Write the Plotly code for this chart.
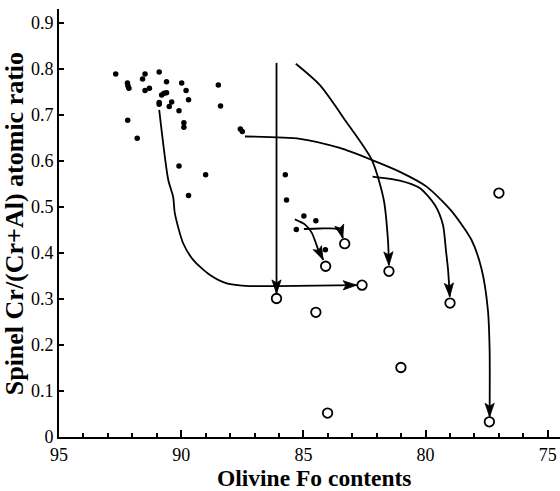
import math
import plotly.graph_objects as go

# Filled dots (olivine Fo, spinel Cr#)
dot_fo = [92.68, 92.2, 92.18, 92.14, 91.58, 91.48, 91.48, 91.3, 90.9, 90.6,
          90.8, 90.7, 90.6, 90.9, 90.9, 90.49, 90.39, 90.09, 89.98, 89.8,
          89.7, 89.89, 89.89, 92.19, 91.8, 88.48, 88.39, 87.58, 87.5, 90.09,
          89.0, 89.7, 85.74, 85.69, 84.98, 84.49, 85.29, 84.1]
dot_cr = [0.789, 0.769, 0.763, 0.758, 0.778, 0.789, 0.753, 0.758, 0.793, 0.772,
          0.743, 0.747, 0.748, 0.727, 0.723, 0.718, 0.728, 0.709, 0.769, 0.753,
          0.733, 0.683, 0.673, 0.688, 0.649, 0.765, 0.719, 0.669, 0.664, 0.589,
          0.570, 0.525, 0.570, 0.515, 0.480, 0.470, 0.451, 0.407]

# Open circles
open_fo = [86.1, 82.6, 84.49, 79.0, 81.01, 84.01, 77.39, 81.5, 83.31, 84.09, 77.0]
open_cr = [0.301, 0.330, 0.271, 0.291, 0.151, 0.052, 0.033, 0.360, 0.420, 0.371, 0.530]

# Evolution paths (each ends with an arrowhead)
path1_fo = [90.90, 90.53, 90.33, 90.26, 89.92, 89.51, 88.82, 88.14, 87.19, 86.10, 84.5, 82.82]
path1_cr = [0.711, 0.559, 0.522, 0.486, 0.421, 0.385, 0.352, 0.334, 0.328, 0.328, 0.329, 0.330]
path2_fo = [86.1, 86.1]
path2_cr = [0.813, 0.312]
path3_fo = [85.31, 84.33, 83.30, 82.20, 81.71, 81.54, 81.50]
path3_cr = [0.811, 0.765, 0.689, 0.602, 0.515, 0.428, 0.373]
path4_fo = [87.39, 85.14, 83.51, 82.21, 81.05, 79.96, 78.97, 78.12, 77.70, 77.45, 77.38, 77.38]
path4_cr = [0.653, 0.648, 0.628, 0.602, 0.576, 0.544, 0.493, 0.428, 0.363, 0.276, 0.189, 0.044]
path5_fo = [82.17, 81.05, 80.24, 79.62, 79.29, 79.17, 79.08, 79.01]
path5_cr = [0.566, 0.557, 0.541, 0.504, 0.461, 0.407, 0.363, 0.305]
path6_fo = [85.35, 84.94, 84.65, 84.39, 84.19]
path6_cr = [0.473, 0.462, 0.443, 0.407, 0.385]
path7_fo = [84.98, 84.33, 83.70, 83.47, 83.39]
path7_cr = [0.452, 0.453, 0.453, 0.448, 0.432]

paths = [(path1_fo, path1_cr), (path2_fo, path2_cr), (path3_fo, path3_cr),
         (path4_fo, path4_cr), (path5_fo, path5_cr), (path6_fo, path6_cr),
         (path7_fo, path7_cr)]

x_ticks = [95, 90, 85, 80, 75]
y_ticks = [0, 0.1, 0.2, 0.3, 0.4, 0.5, 0.6, 0.7, 0.8, 0.9]
y_ticktext = ["0", "0.1", "0.2", "0.3", "0.4", "0.5", "0.6", "0.7", "0.8", "0.9"]

x_title = "Olivine Fo contents"
y_title = "Spinel Cr/(Cr+Al) atomic ratio"

SERIF = "Liberation Serif"
W, H = 560, 491
ML, MR, MT, MB = 59, 0, 9, 54
X_RANGE = [95, 74.5]
Y_RANGE = [0, 0.93]
sx = (W - ML - MR) / (X_RANGE[1] - X_RANGE[0])   # px per data unit (negative: reversed)
sy = (H - MT - MB) / (Y_RANGE[1] - Y_RANGE[0])
HEAD_LEN, HEAD_HALF, HEAD_NOTCH = 13.5, 4.6, 10.5

fig = go.Figure()
head_x, head_y = [], []
for px, py in paths:
    fig.add_trace(go.Scatter(x=px, y=py, mode="lines",
                             line=dict(color="black", width=1.8, shape="spline", smoothing=0.7),
                             hoverinfo="skip", showlegend=False))
    # direction of last segment in screen pixels
    dxs = (px[-1] - px[-2]) * sx
    dys = -(py[-1] - py[-2]) * sy
    n = math.hypot(dxs, dys)
    ux, uy = dxs / n, dys / n
    vx, vy = -uy, ux
    pts = [(0, 0),
           (-ux * HEAD_LEN + vx * HEAD_HALF, -uy * HEAD_LEN + vy * HEAD_HALF),
           (-ux * HEAD_NOTCH, -uy * HEAD_NOTCH),
           (-ux * HEAD_LEN - vx * HEAD_HALF, -uy * HEAD_LEN - vy * HEAD_HALF),
           (0, 0)]
    for ox, oy in pts:
        head_x.append(px[-1] + ox / sx)
        head_y.append(py[-1] - oy / sy)
    head_x.append(None)
    head_y.append(None)

fig.add_trace(go.Scatter(x=head_x, y=head_y, mode="lines", fill="toself",
                         fillcolor="black", line=dict(color="black", width=0.8),
                         hoverinfo="skip", showlegend=False))

fig.add_trace(go.Scatter(x=dot_fo, y=dot_cr, mode="markers",
                         marker=dict(color="black", size=5.5, line=dict(width=0)),
                         showlegend=False))
fig.add_trace(go.Scatter(x=open_fo, y=open_cr, mode="markers",
                         marker=dict(color="white", size=9.5, line=dict(color="black", width=1.8)),
                         showlegend=False))

annotations = [
    dict(text="<b>" + x_title + "</b>", xref="paper", yref="paper", x=0.509, y=0,
         xanchor="center", yanchor="middle", yshift=-41, showarrow=False,
         font=dict(family=SERIF, size=23.5, color="black")),
    dict(text="<b>" + y_title + "</b>", xref="paper", yref="paper", x=0, y=0.497,
         xanchor="center", yanchor="middle", xshift=-45, textangle=-90,
         showarrow=False, font=dict(family=SERIF, size=26, color="black")),
]

fig.update_layout(
    width=W, height=H,
    margin=dict(l=ML, r=MR, t=MT, b=MB, autoexpand=False),
    paper_bgcolor="white", plot_bgcolor="white",
    font=dict(family=SERIF, color="black", size=17),
    annotations=annotations,
    xaxis=dict(range=X_RANGE, tickvals=x_ticks, ticks="inside", ticklen=7, tickwidth=2,
               tickcolor="black", showline=True, linewidth=2, linecolor="black",
               showgrid=False, zeroline=False, automargin=False,
               minor=dict(dtick=1, tick0=95, ticks="inside", ticklen=4, tickwidth=1.5, tickcolor="black"),
               tickfont=dict(size=18, family=SERIF, color="black")),
    yaxis=dict(range=Y_RANGE, tickvals=y_ticks, ticktext=y_ticktext, ticks="inside", ticklen=5,
               tickwidth=2, tickcolor="black", showline=True, linewidth=2, linecolor="black",
               showgrid=False, zeroline=False, automargin=False,
               tickfont=dict(size=18, family=SERIF, color="black")),
)

fig.write_html("out.html", config={"displayModeBar": False},
               post_script="document.body.style.margin='0';document.body.style.padding='0';")
